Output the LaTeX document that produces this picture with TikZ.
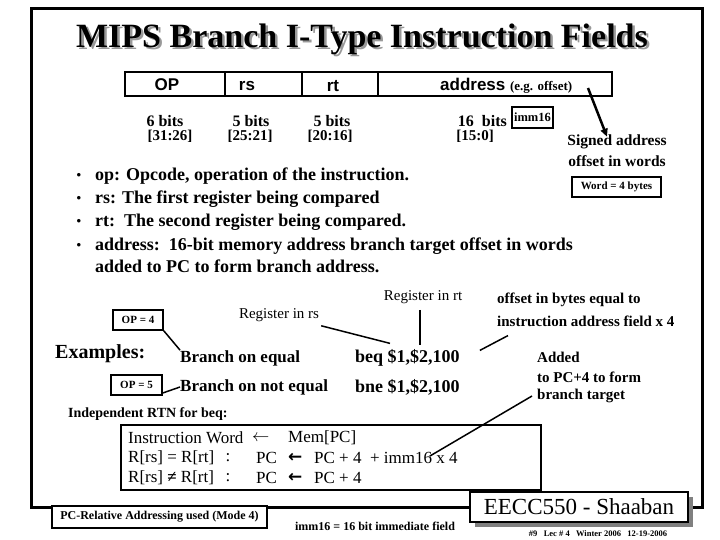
\documentclass[tikz,border=0pt]{standalone}
\usepackage{fontspec}
\setmainfont{Liberation Serif}
\setsansfont{Liberation Sans}
\newfontfamily\arrowfont{DejaVu Sans}
\usetikzlibrary{arrows.meta,positioning}

\newcommand{\fs}[1]{\fontsize{#1}{#1}\selectfont}

\begin{document}
\begin{tikzpicture}[x=1pt, y=-1pt, >={Triangle[length=8pt,width=7pt]},
    txt/.style={inner sep=0pt, font=\bfseries\fs{#1}},
    plain/.style={inner sep=0pt, font=\fs{#1}},
    fieldtxt/.style={inner sep=0pt, anchor=base, font=\sffamily\bfseries\fs{17}},
    tagbox/.style={draw, line width=1.5pt, fill=white, inner sep=0pt, font=\bfseries\fs{#1}},
    pointer/.style={line width=1.5pt},
    gets/.style={inner sep=0pt, anchor=west, font=\arrowfont\bfseries\fs{17}},
  ]
  \useasboundingbox (0,0) rectangle (720,540);
  % outer frame
  \draw[line width=3pt] (31,9) rectangle (702,507);

  % title, with its shadow
  \node[txt=34, text=gray!80] (titleshadow) at (364.5,41.5) {MIPS Branch I-Type Instruction Fields};
  \node[txt=34] (title) at (362,39) {MIPS Branch I-Type Instruction Fields};

  % instruction fields
  \draw[line width=1.6pt] (125,72) rectangle (612,96);
  \foreach \x in {225,302,378}
    \draw[line width=1.6pt] (\x,72) -- (\x,96);
  \node[fieldtxt] (fop) at (167,91) {OP};
  \node[fieldtxt] (frs) at (247,91) {rs};
  \node[fieldtxt] (frt) at (333,92) {rt};
  \node[fieldtxt, anchor=base west] (faddr) at (440,91)
    {address \rmfamily\fs{13}(e.g. offset)};

  % sizes and bit ranges
  \node[txt=16] (b1) at (165,121) {6 bits};
  \node[txt=16] (b2) at (251,121) {5 bits};
  \node[txt=16] (b3) at (332,121) {5 bits};
  \node[txt=16, anchor=east] (b4) at (507,121) {16\ \ bits};
  \node[txt=15] (r1) at (170,136) {[31:26]};
  \node[txt=15] (r2) at (250,136) {[25:21]};
  \node[txt=15] (r3) at (330,136) {[20:16]};
  \node[txt=15] (r4) at (475,136) {[15:0]};
  \node[tagbox=12.5, minimum width=41, minimum height=21] (imm) at (532.5,117.5) {imm16};

  % signed offset note
  \coordinate (argtail) at (588,88);
  \node[txt=15.5] (signed) at (617,142) {Signed address};
  \node[txt=15.5] (words) at (617,161) {offset in words};
  \node[tagbox=11, minimum width=89, minimum height=20] (wordbox) at (616.5,187) {Word = 4 bytes};
  \draw[->, line width=2.5pt] (argtail) -- ([xshift=-10pt,yshift=-2pt]signed.north);

  % field descriptions
  \foreach \y/\t [count=\i] in {176/{op: Opcode, operation of the instruction.},
                     199/{rs: The first register being compared},
                     222/{rt:\ \ The second register being compared.},
                     246/{address:\ \ 16-bit memory address branch target offset in words}} {
    \node[txt=13] (dot\i) at (79,\y) {\textbullet};
    \node[txt=18, anchor=west] (desc\i) at (95,\y) {\t};
  }
  \node[txt=18, anchor=west] (lastline) at (95,266) {added to PC to form branch address.};

  % examples
  \node[txt=20, anchor=west] (examples) at (55,354) {Examples:};
  \node[tagbox=11, minimum width=50, minimum height=20] (op4) at (138,320) {OP = 4};
  \node[tagbox=11, minimum width=51, minimum height=20] (op5) at (136.5,385) {OP = 5};
  \node[txt=17, anchor=west] (beqname) at (180,358) {Branch on equal};
  \node[txt=17, anchor=west] (bnename) at (180,387) {Branch on not equal};
  \node[txt=18, anchor=west] (beq) at (355,358) {beq \$1,\$2,100};
  \node[txt=18, anchor=west] (bne) at (355,387) {bne \$1,\$2,100};
  \node[plain=15] (regrs) at (279,315) {Register in rs};
  \node[plain=15] (regrt) at (423,297) {Register in rt};
  \node[txt=15, anchor=west] (bytes1) at (497,300) {offset in bytes equal to};
  \node[txt=15, anchor=west] (bytes2) at (497,321) {instruction address field x 4};
  \node[txt=15, anchor=west] (added1) at (537,357) {Added};
  \node[txt=15, anchor=west] (added2) at (537,377) {to PC+4 to form};
  \node[txt=15, anchor=west] (added3) at (537,396) {branch target};

  \draw[pointer] (op4.south east) -- (beqname.north west);
  \draw[pointer] (op5.east) ++(0,8) -- (bnename.west);
  \draw[pointer] (regrs.south east) ++(2,4) -- ([xshift=35pt,yshift=6pt]beq.north west);
  \draw[pointer] (regrt.south) ++(-3,6) -- ([xshift=65pt,yshift=4pt]beq.north west);
  \draw[pointer] (bytes2.south west) ++(11,9) -- ([xshift=20pt,yshift=-1pt]beq.north east);

  % register transfer notation
  \node[txt=14, anchor=west] (rtnhead) at (68,414) {Independent RTN for beq:};
  \draw[line width=1.6pt] (121,425) rectangle (541,490);
  \node[plain=17, anchor=west] (w1) at (128,438) {Instruction Word};
  \node[plain=17, anchor=west] (a1) at (252,438) {$\leftarrow$};
  \node[plain=17, anchor=west] (m1) at (288,438) {Mem[PC]};
  \node[plain=17, anchor=west] (c2) at (128,458) {R[rs] = R[rt]};
  \node[plain=17] (k2) at (228,458) {:};
  \node[plain=17, anchor=west] (p2) at (256,458) {PC};
  \node[gets] (a2) at (288,458) {←};
  \node[plain=17, anchor=west] (pc2) at (314,458) {PC + 4\ \ + imm16 x 4};
  \node[plain=17, anchor=west] (c3) at (128,478) {R[rs] {\bfseries≠} R[rt]};
  \node[plain=17] (k3) at (228,478) {:};
  \node[plain=17, anchor=west] (p3) at (256,478) {PC};
  \node[gets] (a3) at (288,478) {←};
  \node[plain=17, anchor=west] (pc3) at (314,478) {PC + 4};
  \draw[pointer] (added3.west) ++(-5,0) -- ([xshift=-28pt,yshift=-4pt]pc2.north east);

  % footer
  \node[tagbox=12, minimum width=215, minimum height=22] (mode) at (159.5,517) {PC-Relative Addressing used (Mode 4)};
  \node[txt=12] (immnote) at (375,526) {imm16 = 16 bit immediate field};
  \fill[gray] (475,497) rectangle (693,527);
  \node[draw, line width=1.5pt, fill=white, minimum width=218, minimum height=30, inner sep=0pt,
        font=\fs{23}] (course) at (579,507) {EECC550 - Shaaban};
  \node[txt=8.5] (lec) at (598,534) {\#9\ \ \ Lec \# 4\ \ \ Winter 2006\ \ \ 12-19-2006};
\end{tikzpicture}
\end{document}
